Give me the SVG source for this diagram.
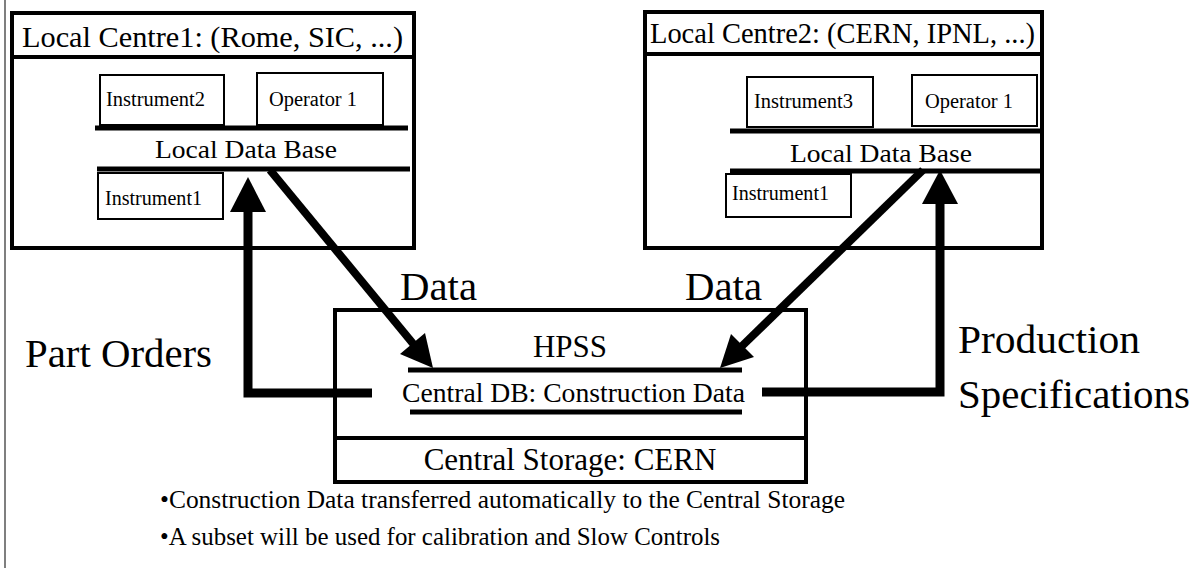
<svg xmlns="http://www.w3.org/2000/svg" width="1202" height="568" viewBox="0 0 1202 568">
<style>
text{font-family:"Times New Roman","Liberation Serif","DejaVu Serif",serif;fill:#000}
.box{fill:#fff;stroke:#000;stroke-width:4}
.ibox{fill:#fff;stroke:#000;stroke-width:2}
.bar{stroke:#000;stroke-width:5}
.big{font-size:40px}
.hdr{font-size:30px}
.sm{font-size:20px}
.db{font-size:26px}
.arr{fill:none;stroke:#000;stroke-width:9;stroke-linejoin:miter}
.diag{fill:none;stroke:#000;stroke-width:8}
.head{fill:#000}
</style>
<rect width="1202" height="568" fill="#fff"/>
<line x1="5" y1="0" x2="5" y2="568" stroke="#555" stroke-width="1.5"/>

<g id="centre1">
<rect class="box" x="12" y="13" width="402" height="235"/>
<line x1="12" y1="57" x2="414" y2="57" stroke="#000" stroke-width="4"/>
<text class="hdr" x="22" y="47" textLength="381" lengthAdjust="spacingAndGlyphs">Local Centre1: (Rome, SIC, ...)</text>
<rect class="ibox" x="100" y="75" width="124" height="50"/>
<text class="sm" x="106" y="106" textLength="99" lengthAdjust="spacingAndGlyphs">Instrument2</text>
<rect class="ibox" x="257" y="73" width="126" height="52"/>
<text class="sm" x="269" y="106" textLength="88" lengthAdjust="spacingAndGlyphs">Operator 1</text>
<line class="bar" x1="95" y1="128" x2="408" y2="128"/>
<text class="db" x="155" y="158" textLength="182" lengthAdjust="spacingAndGlyphs">Local Data Base</text>
<line class="bar" x1="97" y1="169" x2="410" y2="169"/>
<rect class="ibox" x="98" y="173" width="125" height="46"/>
<text class="sm" x="105" y="205" textLength="97" lengthAdjust="spacingAndGlyphs">Instrument1</text>
</g>

<g id="centre2">
<rect class="box" x="645" y="12" width="397" height="236"/>
<line x1="645" y1="54" x2="1042" y2="54" stroke="#000" stroke-width="4"/>
<text class="hdr" x="650" y="43" textLength="385" lengthAdjust="spacingAndGlyphs">Local Centre2: (CERN, IPNL, ...)</text>
<rect class="ibox" x="747" y="77" width="126" height="50"/>
<text class="sm" x="754" y="108" textLength="99" lengthAdjust="spacingAndGlyphs">Instrument3</text>
<rect class="ibox" x="912" y="75" width="125" height="51"/>
<text class="sm" x="925" y="108" textLength="88" lengthAdjust="spacingAndGlyphs">Operator 1</text>
<line class="bar" x1="730" y1="131" x2="1042" y2="131"/>
<text class="db" x="790" y="162" textLength="182" lengthAdjust="spacingAndGlyphs">Local Data Base</text>
<line class="bar" x1="730" y1="171" x2="1044" y2="171"/>
<rect class="ibox" x="726" y="174" width="125" height="43"/>
<text class="sm" x="732" y="200" textLength="97" lengthAdjust="spacingAndGlyphs">Instrument1</text>
</g>

<g id="central">
<rect class="box" x="335" y="310" width="471" height="172"/>
<line x1="335" y1="438" x2="806" y2="438" stroke="#000" stroke-width="4"/>
<text x="533" y="357" font-size="31" textLength="74" lengthAdjust="spacingAndGlyphs">HPSS</text>
<line class="bar" x1="408" y1="370" x2="742" y2="370"/>
<text x="402" y="402" font-size="27" textLength="343" lengthAdjust="spacingAndGlyphs">Central DB: Construction Data</text>
<line class="bar" x1="410" y1="412" x2="742" y2="412"/>
<text x="570" y="470" font-size="31" text-anchor="middle">Central Storage: CERN</text>
</g>

<g id="connectors">
<path class="arr" d="M372,393 H248 V205"/>
<polygon class="head" points="248,177 230,212 266,212"/>
<path class="arr" d="M762,392 H940 V198"/>
<polygon class="head" points="940,170 922,204 958,204"/>
<line class="diag" x1="270" y1="170" x2="415" y2="346"/>
<polygon class="head" points="433,368 425,333 400,354"/>
<line class="diag" x1="923" y1="170" x2="741" y2="347"/>
<polygon class="head" points="720,368 754,357 731,334"/>
</g>

<g id="labels">
<text class="big" x="400" y="300" textLength="77" lengthAdjust="spacingAndGlyphs">Data</text>
<text class="big" x="685" y="300" textLength="77" lengthAdjust="spacingAndGlyphs">Data</text>
<text class="big" x="25" y="367" textLength="187" lengthAdjust="spacingAndGlyphs">Part Orders</text>
<text class="big" x="958" y="353" textLength="182" lengthAdjust="spacingAndGlyphs">Production</text>
<text class="big" x="958" y="408" textLength="232" lengthAdjust="spacingAndGlyphs">Specifications</text>
<text x="160" y="508" font-size="25" textLength="685" lengthAdjust="spacingAndGlyphs">•Construction Data transferred automatically to the Central Storage</text>
<text x="160" y="545" font-size="25" textLength="560" lengthAdjust="spacingAndGlyphs">•A subset will be used for calibration and Slow Controls</text>
</g>
</svg>
